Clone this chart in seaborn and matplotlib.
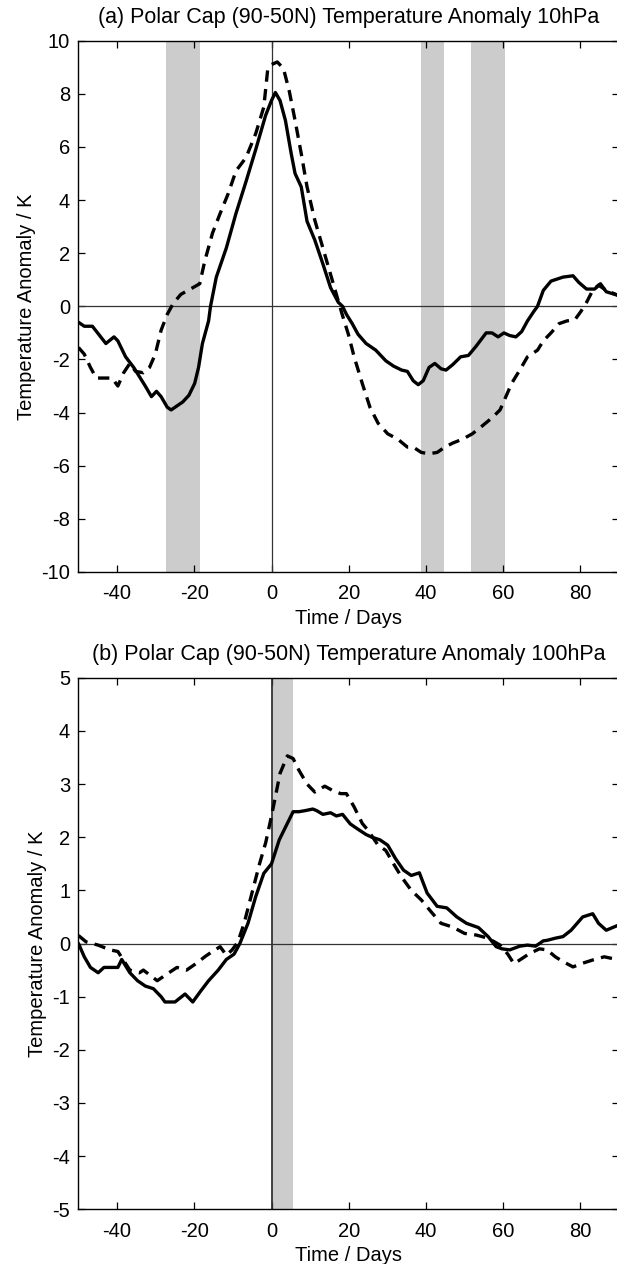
import numpy as np
import pandas as pd
import matplotlib
matplotlib.use("Agg")
import matplotlib.pyplot as plt
import seaborn as sns

# 10 hPa panel (a)
days_a_solid = [-50, -48.5, -46.4, -42.9, -40.8, -39.8, -37.8, -35.7, -32.7, -31.1, -29.8, -28.6,
                -27, -26, -24.5, -23, -21.4, -19.9, -18.9, -17.9, -16.3, -15.8, -14.3, -11.7, -9.2,
                -6.6, -4.1, -1.5, 0, 1, 2.2, 3.6, 5.1, 6.1, 7.7, 9.2, 11.2, 13.3, 15.3, 17.3, 18.4,
                19.4, 20.9, 22.4, 24.5, 27, 29.6, 31.6, 33.7, 35.2, 36.7, 38, 39.3, 40.8, 42.3, 43.9,
                45.2, 46.9, 49, 51, 53, 55.6, 57.1, 58.7, 60.2, 61.7, 63.3, 64.8, 66.3, 67.9, 68.9,
                70.4, 72.4, 75.5, 78.1, 79.6, 81.6, 83.7, 85.2, 86.7, 90]
temp_a_solid = [-0.6, -0.75, -0.75, -1.4, -1.15, -1.3, -1.9, -2.3, -3.0, -3.4, -3.2, -3.4,
                -3.8, -3.9, -3.75, -3.6, -3.35, -2.9, -2.3, -1.4, -0.55, 0.0, 1.1, 2.2, 3.5,
                4.7, 5.9, 7.2, 7.75, 8.05, 7.75, 7.0, 5.75, 5.0, 4.5, 3.2, 2.5, 1.6, 0.7, 0.15, 0.0,
                -0.3, -0.65, -1.05, -1.4, -1.65, -2.05, -2.25, -2.4, -2.45, -2.8, -2.95, -2.8, -2.3, -2.15, -2.35,
                -2.4, -2.2, -1.9, -1.85, -1.5, -1.0, -1.0, -1.15, -1.0, -1.1, -1.15, -0.95, -0.55, -0.2, 0.0,
                0.6, 0.95, 1.1, 1.15, 0.9, 0.65, 0.65, 0.85, 0.55, 0.4]

days_a_dash = [-50, -48.5, -46.9, -45.4, -43.4, -41.3, -39.8, -38.3, -36.7, -35.2, -33.2, -31.6,
               -30.1, -28.6, -27, -25.5, -23.5, -20.4, -18.6, -17.3, -15.3, -13.3, -11.2, -9.2,
               -6.6, -4.1, -2, -1, 0, 1.5, 3.1, 4.6, 6.1, 7.7, 9.2, 11.2, 13.3, 15.3, 17.3, 18.4,
               19.9, 21.4, 23.5, 25.5, 27.6, 30.1, 32.7, 35.2, 36.7, 38.8, 40.8, 42.9, 44.9, 46.9,
               49.5, 52, 54.6, 57.1, 59.2, 60.7, 62.2, 64.3, 66.3, 68.9, 70.4, 72.4, 74.5, 76.5,
               78.6, 80.1, 81.6, 83.2, 84.7, 86.7, 90]
temp_a_dash = [-1.55, -1.8, -2.3, -2.7, -2.7, -2.7, -3.0, -2.5, -2.15, -2.45, -2.5, -2.3,
               -1.8, -0.9, -0.3, 0.1, 0.45, 0.7, 0.85, 1.7, 2.75, 3.5, 4.25, 5.1,
               5.6, 6.5, 7.5, 8.9, 9.1, 9.2, 8.95, 8.1, 7.0, 5.75, 4.5, 3.25, 2.2, 1.2, 0.2, -0.35,
               -1.05, -1.9, -2.9, -3.8, -4.4, -4.8, -5.0, -5.3, -5.3, -5.5, -5.55, -5.5, -5.3, -5.15,
               -5.0, -4.8, -4.5, -4.2, -3.9, -3.4, -2.9, -2.4, -1.9, -1.65, -1.3, -1.0, -0.65, -0.55,
               -0.5, -0.2, 0.15, 0.6, 0.8, 0.6, 0.4]

# 100 hPa panel (b)
days_b_solid = [-50, -48.5, -46.9, -44.9, -43.4, -41.3, -39.8, -38.8, -36.7, -34.7, -32.7, -30.6,
                -28.6, -27.6, -25, -22.4, -20.4, -18.4, -16.3, -13.8, -11.7, -9.7, -8.2, -6.1, -4.1,
                -2, 0, 2, 4.1, 5.6, 7.1, 8.7, 10.7, 11.7, 13.3, 15.3, 16.8, 18.4, 20.4, 22.4, 24.5,
                26, 28.1, 30.1, 32.1, 34.2, 36.2, 38.3, 40.3, 42.9, 45.4, 48, 50.5, 53.6, 56.1, 58.2,
                59.7, 61.7, 64.3, 66.3, 68.4, 70.4, 71.4, 73.5, 75.5, 77.6, 80.6, 83.2, 84.7, 86.7, 90]
temp_b_solid = [0.0, -0.25, -0.45, -0.55, -0.45, -0.45, -0.45, -0.3, -0.55, -0.7, -0.8, -0.85,
                -1.0, -1.1, -1.1, -0.95, -1.1, -0.9, -0.7, -0.5, -0.3, -0.2, 0.0, 0.38, 0.88,
                1.32, 1.5, 1.95, 2.26, 2.48, 2.48, 2.5, 2.53, 2.5, 2.43, 2.46, 2.4, 2.43, 2.25, 2.15, 2.05,
                2.0, 1.95, 1.85, 1.6, 1.38, 1.28, 1.33, 0.95, 0.7, 0.67, 0.5, 0.38, 0.3, 0.13, -0.06,
                -0.1, -0.12, -0.05, -0.03, -0.05, 0.05, 0.06, 0.1, 0.13, 0.25, 0.5, 0.56, 0.38, 0.25, 0.35]

days_b_dash = [-50, -48, -44.9, -41.8, -39.8, -36.7, -34.2, -33.2, -29.6, -27.6, -24.5, -22,
               -19.4, -17.3, -15.3, -13.3, -11.7, -10.2, -8.7, -7.1, -5.1, -3.1, -1.5, 0, 1, 2.2,
               4.1, 5.6, 7.1, 9.2, 11.2, 13.8, 15.8, 17.9, 19.4, 21.4, 23.5, 25, 27.6, 29.6, 31.6,
               33.7, 36.2, 38.8, 41.3, 43.9, 46.9, 50, 53, 56.1, 59.2, 61.2, 62.8, 64.3, 66.8, 69.4,
               71.4, 73.5, 75.5, 78.1, 80.6, 83.2, 86.2, 90]
temp_b_dash = [0.15, 0.03, -0.03, -0.12, -0.15, -0.5, -0.55, -0.5, -0.7, -0.6, -0.45, -0.5,
               -0.37, -0.25, -0.15, -0.06, -0.22, -0.12, 0.03, 0.38, 0.94, 1.5, 1.9, 2.4, 2.76, 3.2,
               3.53, 3.48, 3.26, 3.0, 2.85, 2.96, 2.88, 2.82, 2.82, 2.57, 2.26, 2.13, 1.85, 1.75, 1.5,
               1.25, 1.0, 0.82, 0.6, 0.38, 0.31, 0.19, 0.16, 0.1, -0.03, -0.2, -0.38, -0.31, -0.19, -0.1,
               -0.12, -0.25, -0.34, -0.44, -0.37, -0.31, -0.25, -0.31]

# shaded periods (days)
shade_a = [(-27.4, -18.6), (38.6, 44.6), (51.7, 60.5)]
shade_b = [(0, 5.6)]

titles = ["(a) Polar Cap (90-50N) Temperature Anomaly 10hPa",
          "(b) Polar Cap (90-50N) Temperature Anomaly 100hPa"]

sns.set_style("ticks")
plt.rcParams['font.family'] = ['Liberation Sans', 'DejaVu Sans']
plt.rcParams['axes.unicode_minus'] = False
for key in ['text.color', 'axes.labelcolor', 'xtick.color', 'ytick.color']:
    plt.rcParams[key] = 'black'

fig = plt.figure(figsize=(6.17, 12.64), dpi=100)
ax_a = fig.add_axes([0.1272, 0.5475, 0.876, 0.4203])
ax_b = fig.add_axes([0.1272, 0.0433, 0.876, 0.4205])

panels = [
    (ax_a, days_a_solid, temp_a_solid, days_a_dash, temp_a_dash, shade_a, (-10, 10), np.arange(-10, 11, 2)),
    (ax_b, days_b_solid, temp_b_solid, days_b_dash, temp_b_dash, shade_b, (-5, 5), np.arange(-5, 6, 1)),
]

for i, (ax, ds, ts, dd, td, shades, ylim, yticks) in enumerate(panels):
    for s0, s1 in shades:
        ax.axvspan(s0, s1, color='#cccccc', lw=0, zorder=0)
    ax.axhline(0, color='#333333', lw=0.9, zorder=1)
    ax.axvline(0, color='#333333', lw=0.9 if i == 0 else 1.3, zorder=1)
    sns.lineplot(x=ds, y=ts, ax=ax, color='black', lw=2.4, estimator=None, zorder=3)
    sns.lineplot(x=dd, y=td, ax=ax, color='black', lw=2.4, linestyle=(0, (3.4, 2.2)),
                 estimator=None, zorder=3)
    ax.set_xlim(-50, 90)
    ax.set_ylim(*ylim)
    ax.set_xticks([-40, -20, 0, 20, 40, 60, 80])
    ax.set_yticks(yticks)
    ax.tick_params(axis='x', direction='in', top=True, length=5, width=0.9,
                   labelsize=14.5, pad=9)
    ax.tick_params(axis='y', direction='in', right=True, length=5, width=0.9,
                   labelsize=14.5, pad=6)
    for sp in ax.spines.values():
        sp.set_linewidth(1.0)
        sp.set_color('black')
    ax.set_title(titles[i], fontsize=15.5, pad=13)
    ax.set_xlabel('Time / Days', fontsize=14.5, labelpad=4)
    ax.set_ylabel('Temperature Anomaly / K', fontsize=14.5, labelpad=4)

fig.savefig('out.png', dpi=100)
